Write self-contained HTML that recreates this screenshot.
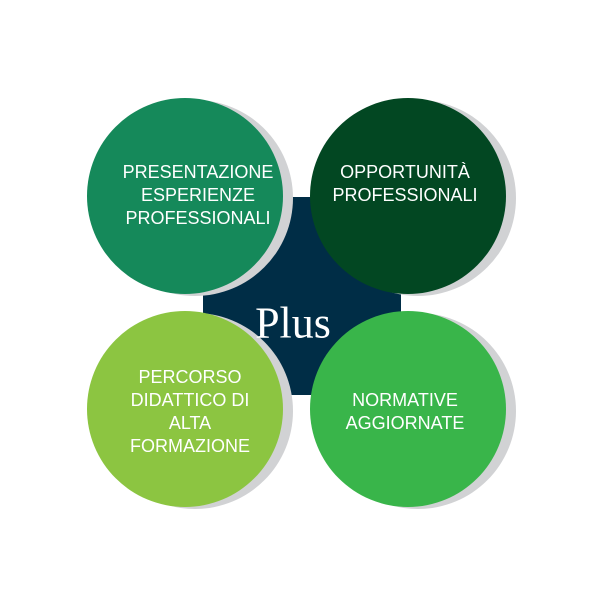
<!DOCTYPE html>
<html><head><style>
body{margin:0;width:600px;height:600px;background:#fff;position:relative;overflow:hidden;font-family:"Liberation Sans",sans-serif}
.c,.s{position:absolute;width:196px;height:196px;border-radius:50%}
.s{background:#d1d2d4}
.sq{position:absolute;left:203px;top:197px;width:198px;height:198px;border-radius:26px;background:#002d46}
.t{position:absolute;color:#fff;font-size:18px;line-height:23px;text-align:center;width:220px;transform:translateX(-50%)}
.p{position:absolute;left:293px;top:323px;transform:translate(-50%,-50%);font-family:"Liberation Serif",serif;font-size:44px;color:#fff}
</style></head><body>
<div class="sq"></div>
<div class="s" style="left:97px;top:100px"></div>
<div class="s" style="left:320px;top:100px"></div>
<div class="s" style="left:97px;top:313px"></div>
<div class="s" style="left:320px;top:313px"></div>
<div class="c" style="left:87px;top:98px;background:#15895a"></div>
<div class="c" style="left:310px;top:98px;background:#024722"></div>
<div class="c" style="left:87px;top:311px;background:#8cc541"></div>
<div class="c" style="left:310px;top:311px;background:#39b54a"></div>
<div class="p">Plus</div>
<div class="t" style="left:198px;top:161px">PRESENTAZIONE<br>ESPERIENZE<br>PROFESSIONALI</div>
<div class="t" style="left:405px;top:161px">OPPORTUNITÀ<br>PROFESSIONALI</div>
<div class="t" style="left:190px;top:366px">PERCORSO<br>DIDATTICO DI<br>ALTA<br>FORMAZIONE</div>
<div class="t" style="left:405px;top:389px">NORMATIVE<br>AGGIORNATE</div>
</body></html>
